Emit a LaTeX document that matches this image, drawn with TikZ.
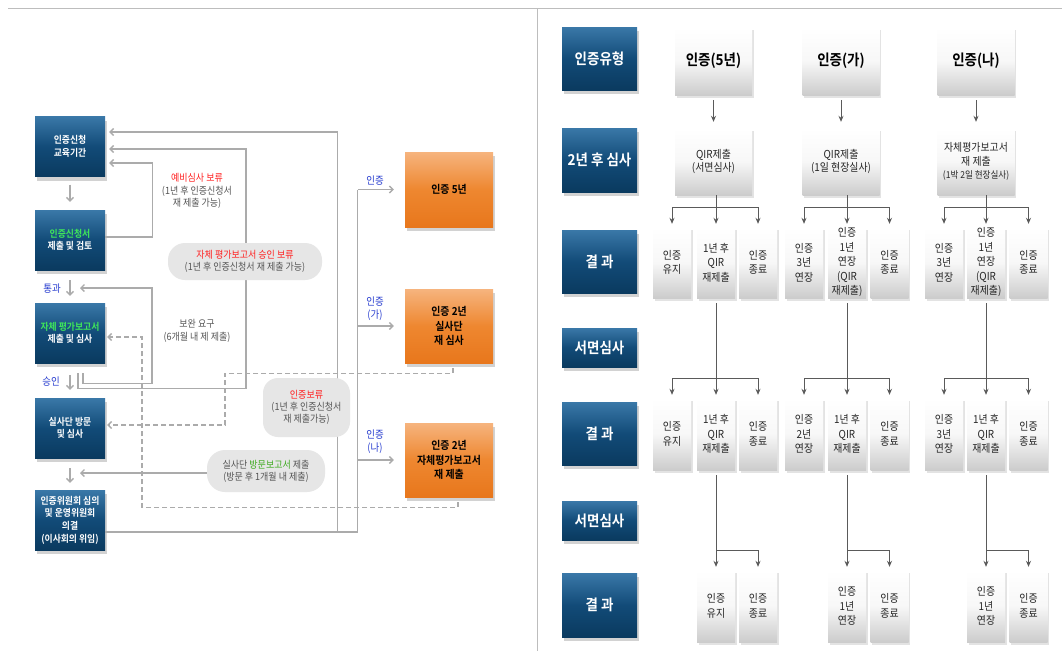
\documentclass[tikz,border=0pt]{standalone}
\usepackage{fontspec}
\setmainfont{Noto Sans CJK KR}[BoldFont={Noto Sans CJK KR Bold}, FakeStretch=0.9]
\usetikzlibrary{shadows,arrows.meta}
\definecolor{navyA}{HTML}{3A78A8}
\definecolor{navyB}{HTML}{124B78}
\definecolor{navyC}{HTML}{0A3A5F}
\definecolor{orA}{HTML}{F6B47E}
\definecolor{orB}{HTML}{EE8730}
\definecolor{orC}{HTML}{E8771C}
\definecolor{lgray}{HTML}{ABABAB}
\definecolor{dgray}{HTML}{5A5A5A}
\definecolor{txtgray}{HTML}{555555}
\definecolor{lblred}{HTML}{FF1E1E}
\definecolor{lblblue}{HTML}{2A3FD0}
\definecolor{lblgreen}{HTML}{3EE65A}
\definecolor{lblgreen2}{HTML}{3DAA1E}
\definecolor{pillc}{HTML}{E6E6E6}
\definecolor{sepc}{HTML}{BDBDBD}
\begin{document}
\begin{tikzpicture}[x=1pt,y=-1pt,
  navybox/.style={rectangle, inner sep=0pt, align=center, text=white,
    top color=navyA, bottom color=navyC, middle color=navyB,
    drop shadow={shadow xshift=2pt,shadow yshift=-4pt,opacity=0.35}},
  lnavy/.style={navybox, minimum width=70pt, minimum height=60pt,
    font=\bfseries\fontsize{9.8}{12.6}\selectfont},
  rnavy/.style={navybox, minimum width=75pt, minimum height=63pt,
    font=\bfseries\fontsize{15}{17}\selectfont},
  orbox/.style={rectangle, inner sep=0pt, align=center, text=black,
    top color=orA, bottom color=orC, middle color=orB,
    minimum width=88pt, minimum height=74pt,
    drop shadow={shadow xshift=2pt,shadow yshift=-4pt,opacity=0.35},
    font=\bfseries\fontsize{11}{14.5}\selectfont},
  wbox/.style={rectangle, inner sep=0pt, align=center, text=black!85,
    top color=white, bottom color=black!20, middle color=black!3,
    drop shadow={shadow xshift=1.5pt,shadow yshift=-2.5pt,opacity=0.22}},
  hbox/.style={wbox, minimum width=77pt, minimum height=68pt,
    font=\bfseries\fontsize{15}{17}\selectfont, text=black},
  qbox/.style={wbox, minimum width=77pt, minimum height=67pt,
    font=\fontsize{11}{13.5}\selectfont},
  sbox/.style={wbox, minimum width=38pt, minimum height=71pt,
    font=\fontsize{11}{14.5}\selectfont},
  pill/.style={rectangle, rounded corners=15pt, fill=pillc, inner sep=0pt,
    align=center, text=txtgray, font=\fontsize{10}{12.3}\selectfont},
  lbl/.style={inner sep=0pt, align=center, text=txtgray, font=\fontsize{10}{12.8}\selectfont},
  blbl/.style={inner sep=0pt, align=center, text=lblblue, font=\fontsize{10.5}{13}\selectfont},
  fbline/.style={draw=lgray, line width=1.3pt},
  fb/.style={fbline, -{Straight Barb[length=3.5pt,width=7pt]}},
  fbdash/.style={fb, dash pattern=on 5pt off 3pt},
  rline/.style={draw=dgray, line width=0.8pt},
  rarr/.style={rline, -{Stealth[length=6pt,width=5pt]}, shorten >=3pt}
]
\useasboundingbox (0,0) rectangle (1062,651);
\fill[white] (0,0) rectangle (1062,651);
\draw[sepc, line width=1pt] (8,8) -- (1062,8);
\draw[sepc, line width=1pt] (537,8) -- (537,651);

% ---------------- left part ----------------
\node[lnavy] (b1) at (70,146.5) {인증신청\\교육기간};
\node[lnavy] (b2) at (70,240) {\textcolor{lblgreen}{인증신청서}\\제출 및 검토};
\node[lnavy] (b3) at (70,333) {\textcolor{lblgreen}{자체 평가보고서}\\제출 및 심사};
\node[lnavy] (b4) at (70,428) {실사단 방문\\및 심사};
\node[lnavy] (b5) at (70,520) {인증위원회 심의\\및 운영위원회\\의결\\(이사회의 위임)};

\node[orbox, minimum height=75pt] (o1) at (449,189.5) {인증 5년};
\node[orbox] (o2) at (449,326) {인증 2년\\실사단\\재 심사};
\node[orbox] (o3) at (449,460) {인증 2년\\자체평가보고서\\재 제출};

\draw[fb, shorten <=8pt, shorten >=8pt] (b1) -- (b2);
\draw[fb, shorten <=10pt, shorten >=7pt] (b2) -- (b3);
\draw[fb, shorten <=12pt, shorten >=8pt] (b3) -- (b4);
\draw[fb, shorten <=10pt, shorten >=7pt] (b4) -- (b5);

\coordinate (t1) at (80,288);
\coordinate (t2) at (80,473);

% feedback loops
\draw[fb, shorten >=4pt] ([yshift=3pt]b2.east) -- ++(47,0) |- ([yshift=-16.5pt]b1.east);
\draw[fb, shorten >=4pt] ([xshift=8pt,yshift=-10pt]b3.south) -- ++(0,15) -- ++(168,0) |- ([yshift=-2.5pt]b1.east);
\draw[fb] ([xshift=13pt,yshift=-10pt]b3.south) -- ++(0,10) -- ++(69,0) |- (t1);
\draw[fbline] ([yshift=-12pt]b5.east) -| ([xshift=-47pt]o1.west);
\draw[fb, shorten >=4pt] ([xshift=232pt,yshift=-12pt]b5.east) |- ([yshift=14.5pt]b1.east);
\draw[fb, shorten >=11pt] ([xshift=-47pt]o1.west) -- (o1.west);
\draw[fb, shorten >=11pt] ([xshift=-47pt]o2.west) -- (o2.west);
\draw[fb, shorten >=11pt] ([xshift=-47pt]o3.west) -- (o3.west);
\draw[fbdash, shorten >=2pt] ([xshift=4pt,yshift=-5pt]o2.south) -- ++(0,5) -- ++(-228,0) |- ([yshift=3pt]b4.east);
\draw[fbdash, shorten >=2pt] ([xshift=9pt,yshift=-5pt]o3.south) -- ++(0,5) -- ++(-316,0) |- ([yshift=-4pt]b3.east);

% labels
\node[lbl] (lab1) at (197,191) {\textcolor{lblred}{예비심사 보류}\\(1년 후 인증신청서\\재 제출 가능)};
\node[lbl] (lab2) at (197,330.5) {보완 요구\\(6개월 내 제 제출)};
\node[blbl] (lab3) at (52,289) {통과};
\node[blbl] (lab4) at (51,382) {승인};
\node[blbl] (lab5) at (375,181) {인증};
\node[blbl] (lab6) at (375,309) {인증\\(가)};
\node[blbl] (lab7) at (375,441.5) {인증\\(나)};

\node[pill, minimum width=154pt, minimum height=37pt, rounded corners=17pt] (g1) at (245,261.5)
  {\textcolor{lblred}{자체 평가보고서 승인 보류}\\(1년 후 인증신청서 재 제출 가능)};
\node[pill, minimum width=87pt, minimum height=59pt] (g2) at (306.5,407.5)
  {\textcolor{lblred}{인증보류}\\(1년 후 인증신청서\\재 제출가능)};
\node[pill, minimum width=118pt, minimum height=42pt, rounded corners=18pt] (g3) at (266,471)
  {실사단 \textcolor{lblgreen2}{방문보고서} 제출\\(방문 후 1개월 내 제출)};
\draw[fb] ([yshift=-2pt]g3.west) -- (t2);

% ---------------- right part ----------------
\node[rnavy] (r1) at (599.5,58.5) {인증유형};
\node[rnavy, minimum height=64pt] (r2) at (599.5,160) {2년 후 심사};
\node[rnavy] (r3) at (599.5,261.5) {결 과};
\node[rnavy, minimum height=39pt] (r4) at (599.5,347.5) {서면심사};
\node[rnavy] (r5) at (599.5,433.5) {결 과};
\node[rnavy, minimum height=39pt] (r6) at (599.5,520.5) {서면심사};
\node[rnavy, minimum height=64pt] (r7) at (599.5,605) {결 과};

\node[hbox] (h1) at (713.5,61) {인증(5년)};
\node[hbox] (h2) at (841,61) {인증(가)};
\node[hbox] (h3) at (976,61) {인증(나)};

\node[qbox] (q1) at (713.5,161.5) {QIR제출\\(서면심사)};
\node[qbox] (q2) at (841,161.5) {QIR제출\\(1일 현장실사)};
\node[qbox] (q3) at (976,161.5) {자체평가보고서\\재 제출\\{\fontsize{9.5}{11.5}\selectfont (1박 2일 현장실사)}};

% row 3
\node[sbox] (s3A1) at (672,262.5) {인증\\유지};
\node[sbox] (s3A2) at (716,262.5) {1년 후\\QIR\\재제출};
\node[sbox] (s3A3) at (758,262.5) {인증\\종료};
\node[sbox] (s3B1) at (804,262.5) {인증\\3년\\연장};
\node[sbox] (s3B2) at (847,262.5) {인증\\1년\\연장\\(QIR\\재제출)};
\node[sbox] (s3B3) at (889.5,262.5) {인증\\종료};
\node[sbox] (s3C1) at (944,262.5) {인증\\3년\\연장};
\node[sbox] (s3C2) at (986,262.5) {인증\\1년\\연장\\(QIR\\재제출)};
\node[sbox] (s3C3) at (1028.5,262.5) {인증\\종료};
% row 5
\node[sbox, minimum height=72pt] (s5A1) at (672,434) {인증\\유지};
\node[sbox, minimum height=72pt] (s5A2) at (716,434) {1년 후\\QIR\\재제출};
\node[sbox, minimum height=72pt] (s5A3) at (758,434) {인증\\종료};
\node[sbox, minimum height=72pt] (s5B1) at (804,434) {인증\\2년\\연장};
\node[sbox, minimum height=72pt] (s5B2) at (847,434) {1년 후\\QIR\\재제출};
\node[sbox, minimum height=72pt] (s5B3) at (889.5,434) {인증\\종료};
\node[sbox, minimum height=72pt] (s5C1) at (944,434) {인증\\3년\\연장};
\node[sbox, minimum height=72pt] (s5C2) at (986,434) {1년 후\\QIR\\재제출};
\node[sbox, minimum height=72pt] (s5C3) at (1028.5,434) {인증\\종료};
% row 7
\node[sbox, minimum height=72pt] (s7A1) at (716,606) {인증\\유지};
\node[sbox, minimum height=72pt] (s7A2) at (758,606) {인증\\종료};
\node[sbox, minimum height=72pt] (s7B1) at (847,606) {인증\\1년\\연장};
\node[sbox, minimum height=72pt] (s7B2) at (889.5,606) {인증\\종료};
\node[sbox, minimum height=72pt] (s7C1) at (986,606) {인증\\1년\\연장};
\node[sbox, minimum height=72pt] (s7C2) at (1028.5,606) {인증\\종료};

% arrows header -> row 2
\draw[rarr, shorten <=5pt, shorten >=6pt] (h1) -- (q1);
\draw[rarr, shorten <=5pt, shorten >=6pt] (h2) -- (q2);
\draw[rarr, shorten <=5pt, shorten >=6pt] (h3) -- (q3);

% row 2 -> row 3
\draw[rline] (s3A2.north |- q1.south) -- ++(0,12) coordinate (jA);
\draw[rarr] (jA) -| (s3A1.north);
\draw[rarr] (jA) -| (s3A3.north);
\draw[rarr] (jA) -- (s3A2.north);
\draw[rline] (s3B2.north |- q2.south) -- ++(0,12) coordinate (jB);
\draw[rarr] (jB) -| (s3B1.north);
\draw[rarr] (jB) -| (s3B3.north);
\draw[rarr] (jB) -- (s3B2.north);
\draw[rline] (s3C2.north |- q3.south) -- ++(0,12) coordinate (jC);
\draw[rarr] (jC) -| (s3C1.north);
\draw[rarr] (jC) -| (s3C3.north);
\draw[rarr] (jC) -- (s3C2.north);

% row 3 -> row 5
\draw[rline] ([yshift=-5pt]s3A2.south) -- ++(0,75) coordinate (kA);
\draw[rarr] (kA) -| (s5A1.north);
\draw[rarr] (kA) -| (s5A3.north);
\draw[rarr] (kA) -- (s5A2.north);
\draw[rline] ([yshift=-5pt]s3B2.south) -- ++(0,75) coordinate (kB);
\draw[rarr] (kB) -| (s5B1.north);
\draw[rarr] (kB) -| (s5B3.north);
\draw[rarr] (kB) -- (s5B2.north);
\draw[rline] ([yshift=-5pt]s3C2.south) -- ++(0,75) coordinate (kC);
\draw[rarr] (kC) -| (s5C1.north);
\draw[rarr] (kC) -| (s5C3.north);
\draw[rarr] (kC) -- (s5C2.north);

% row 5 -> row 7
\draw[rline] ([yshift=-5pt]s5A2.south) -- ++(0,75) coordinate (mA);
\draw[rarr] (mA) -- (s7A1.north);
\draw[rarr] (mA) -| (s7A2.north);
\draw[rline] ([yshift=-5pt]s5B2.south) -- ++(0,75) coordinate (mB);
\draw[rarr] (mB) -- (s7B1.north);
\draw[rarr] (mB) -| (s7B2.north);
\draw[rline] ([yshift=-5pt]s5C2.south) -- ++(0,75) coordinate (mC);
\draw[rarr] (mC) -- (s7C1.north);
\draw[rarr] (mC) -| (s7C2.north);
\end{tikzpicture}
\end{document}
